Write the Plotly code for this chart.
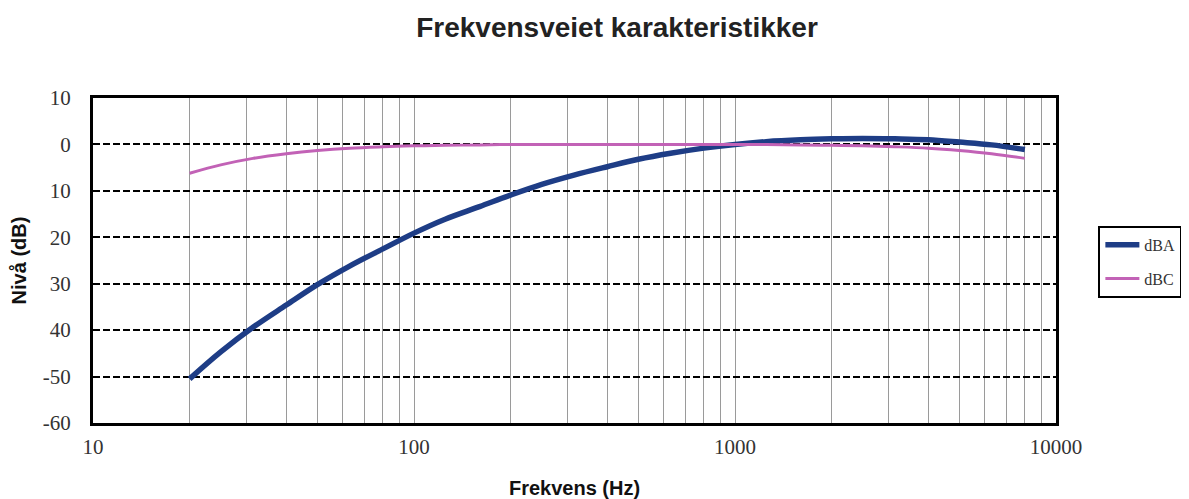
import plotly.graph_objects as go

freq = [20, 25, 31.5, 40, 50, 63, 80, 100, 125, 160, 200, 250, 315, 400, 500, 630, 800,
        1000, 1250, 1600, 2000, 2500, 3150, 4000, 5000, 6300, 8000]
dBA = [-50.5, -44.7, -39.4, -34.6, -30.2, -26.2, -22.5, -19.1, -16.1, -13.4, -10.9, -8.6,
       -6.6, -4.8, -3.2, -1.9, -0.8, 0.0, 0.6, 1.0, 1.2, 1.3, 1.2, 1.0, 0.5, -0.1, -1.1]
dBC = [-6.2, -4.4, -3.0, -2.0, -1.3, -0.8, -0.5, -0.3, -0.2, -0.1, 0.0, 0.0, 0.0, 0.0,
       0.0, 0.0, 0.0, 0.0, 0.0, -0.1, -0.2, -0.3, -0.5, -0.8, -1.3, -2.0, -3.0]

x_tickvals = [m * 10 ** e for e in range(1, 4) for m in range(1, 10)] + [10000]
x_ticktext = [str(v) if v in (10, 100, 1000, 10000) else "" for v in x_tickvals]
y_tickvals = [10, 0, -10, -20, -30, -40, -50, -60]
y_ticktext = ["10", "0", "10", "20", "30", "40", "-50", "-60"]

# page body has an 8px default margin; size the figure so it fits the window
OFF = 8
W, H = 1189 - OFF, 499 - OFF

fig = go.Figure()
fig.add_trace(go.Scatter(x=freq, y=dBA, mode="lines", name="dBA", legendgroup="a",
                         line=dict(color="#1e3d86", width=5.5, shape="spline")))
fig.add_trace(go.Scatter(x=freq, y=dBC, mode="lines", name="dBC", legendgroup="c",
                         line=dict(color="#c262b6", width=3, shape="spline")))

serif = "Liberation Serif"
sans = "Liberation Sans"
fig.update_layout(
    width=W, height=H,
    margin=dict(l=93 - OFF, r=133, t=98 - OFF, b=76, autoexpand=False),
    paper_bgcolor="white", plot_bgcolor="white",
    title=dict(text="<b>Frekvensveiet karakteristikker</b>", x=(617 - OFF) / W, xanchor="center",
               y=1 - (27 - OFF) / H, yanchor="middle", xref="container", yref="container",
               font=dict(family=sans, size=28, color="#222")),
    legend=dict(x=1.044, y=0.607, xanchor="left", yanchor="top",
                bordercolor="black", borderwidth=2, bgcolor="white",
                font=dict(family=serif, size=16, color="#333"),
                itemwidth=34, traceorder="grouped", tracegroupgap=10),
    xaxis=dict(type="log", range=[1, 4], tickvals=x_tickvals, ticktext=x_ticktext,
               showgrid=True, gridcolor="#9a9a9a", gridwidth=1,
               showline=True, mirror=True, linecolor="black", linewidth=3,
               ticks="", ticklabelstandoff=3,
               tickfont=dict(family=serif, size=21, color="#333"),
               title=dict(text="<b>Frekvens (Hz)</b>", standoff=28,
                          font=dict(family=sans, size=20, color="#111")),
               zeroline=False, automargin=False),
    yaxis=dict(range=[-60, 10], tickvals=y_tickvals, ticktext=y_ticktext,
               showgrid=True, gridcolor="black", gridwidth=1.5, griddash="7px,3px",
               showline=True, mirror=True, linecolor="black", linewidth=3,
               ticks="", ticklabelstandoff=15,
               tickfont=dict(family=serif, size=21, color="#333"),
               title=dict(text="<b>Nivå (dB)</b>", standoff=12,
                          font=dict(family=sans, size=20, color="#111")),
               zeroline=False, automargin=False),
)
fig.write_html("out.html")
